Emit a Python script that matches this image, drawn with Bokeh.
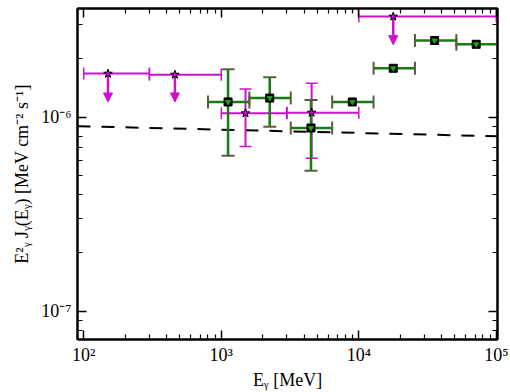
from bokeh.plotting import figure
from bokeh.models import (LogAxis, FixedTicker, CustomJSTickFormatter, Whisker, TeeHead,
                          ColumnDataSource, Arrow, NormalHead, Range1d)
from bokeh.embed import file_html
from bokeh.resources import INLINE

# --- data ---
# magenta upper limits
ul_x = [150, 460, 17800]
ul_y = [1.68e-6, 1.66e-6, 3.31e-6]
ul_xlo = [100, 300, 10000]
ul_xhi = [300, 1000, 100000]
ul_yend = [1.2e-6, 1.2e-6, 2.37e-6]

# magenta detections
mg_x = [1500, 4540]
mg_y = [1.05e-6, 1.057e-6]
mg_xlo = [1000, 3000]
mg_xhi = [3000, 10000]
mg_ylo = [7.07e-7, 6.15e-7]
mg_yhi = [1.40e-6, 1.50e-6]

# green points
gr_x = [1120, 2250, 4490, 8970, 17800, 35600, 71400]
gr_y = [1.20e-6, 1.257e-6, 8.81e-7, 1.20e-6, 1.79e-6, 2.49e-6, 2.38e-6]
gr_xlo = [800, 1600, 3200, 6400, 12800, 25600, 51200]
gr_xhi = [1600, 3200, 6400, 12800, 25600, 51200, 102400]
gr_ex = [1120, 2250, 4490]
gr_ey = [1.20e-6, 1.257e-6, 8.81e-7]
gr_ylo = [6.34e-7, 8.95e-7, 5.31e-7]
gr_yhi = [1.77e-6, 1.61e-6, 1.23e-6]

# dashed model line (straight on log-log)
ln_x = [90, 102000]
ln_y = [9.0e-7, 7.98e-7]

# ticks
x_major = [1e2, 1e3, 1e4, 1e5]
x_minor = [m * d for d in (1e1, 1e2, 1e3, 1e4) for m in range(2, 10)]
y_major = [1e-7, 1e-6]
y_minor = [m * d for d in (1e-8, 1e-7, 1e-6) for m in range(2, 10)]

MAG = "#cc11cc"
GRN = "#1a7a14"
OLV = "#55603a"
FONT = "'Liberation Serif', serif"

p = figure(width=510, height=392, x_axis_type="log", y_axis_type="log",
           x_range=Range1d(90, 102000), y_range=Range1d(7.15e-8, 3.64e-6),
           output_backend="svg", toolbar_location=None,
           min_border_left=77, min_border_right=13, min_border_top=8, min_border_bottom=51)
p.background_fill_color = "white"
p.border_fill_color = "white"
p.xgrid.visible = False
p.ygrid.visible = False
p.outline_line_color = "black"
p.outline_line_width = 2

fmt = CustomJSTickFormatter(code="""
const sup = {'-':'\u207b','0':'\u2070','1':'\u00b9','2':'\u00b2','3':'\u00b3','4':'\u2074',
             '5':'\u2075','6':'\u2076','7':'\u2077','8':'\u2078','9':'\u2079'};
const e = Math.round(Math.log10(tick));
return '10' + String(e).split('').map(c => sup[c]).join('');
""")

def style(ax):
    ax.major_tick_in = 9
    ax.major_tick_out = 0
    ax.minor_tick_in = 5
    ax.minor_tick_out = 0
    ax.axis_line_width = 2
    ax.major_tick_line_width = 1.5
    ax.minor_tick_line_width = 1.2

p.xaxis[0].ticker = FixedTicker(ticks=x_major, minor_ticks=x_minor)
p.yaxis[0].ticker = FixedTicker(ticks=y_major, minor_ticks=y_minor)
for ax in (p.xaxis[0], p.yaxis[0]):
    style(ax)
    ax.formatter = fmt
    ax.major_label_text_font = FONT
    ax.major_label_text_font_size = "18px"
    ax.major_label_text_color = "black"
    ax.axis_label_text_font = FONT
    ax.axis_label_text_font_size = "18px"
    ax.axis_label_text_font_style = "normal"
    ax.axis_label_text_color = "black"

p.xaxis[0].axis_label = "E\u1d67 [MeV]"
p.yaxis[0].axis_label = "E\u00b2\u1d67 J\u1d67(E\u1d67) [MeV cm\u207b\u00b2 s\u207b\u00b9]"
p.xaxis[0].axis_label_standoff = 2
p.yaxis[0].axis_label_standoff = 6
p.xaxis[0].major_label_standoff = 5
p.yaxis[0].major_label_standoff = 6

for loc, maj, mnr in (("above", x_major, x_minor), ("right", y_major, y_minor)):
    ax = LogAxis(ticker=FixedTicker(ticks=maj, minor_ticks=mnr),
                 formatter=CustomJSTickFormatter(code="return '';"))
    style(ax)
    ax.major_label_text_font_size = "0px"
    ax.major_label_standoff = 0
    p.add_layout(ax, loc)

# dashed line
p.line(ln_x, ln_y, line_color="black", line_width=2, line_dash="13 11")

# magenta upper limits
src_ul = ColumnDataSource(dict(x=ul_x, y=ul_y, xlo=ul_xlo, xhi=ul_xhi, yend=ul_yend))
p.add_layout(Whisker(source=src_ul, base="y", lower="xlo", upper="xhi", dimension="width",
                     line_color=MAG, line_width=2, level="glyph",
                     upper_head=TeeHead(size=12, line_color=MAG, line_width=1.5),
                     lower_head=TeeHead(size=12, line_color=MAG, line_width=1.5)))
p.add_layout(Arrow(source=src_ul, x_start="x", y_start="y", x_end="x", y_end="yend",
                   line_color=MAG, line_width=2.5,
                   end=NormalHead(size=9, fill_color=MAG, line_color=MAG)))

# magenta detections
src_mg = ColumnDataSource(dict(x=mg_x, y=mg_y, xlo=mg_xlo, xhi=mg_xhi, ylo=mg_ylo, yhi=mg_yhi))
for dim, base, lo, hi in (("width", "y", "xlo", "xhi"), ("height", "x", "ylo", "yhi")):
    p.add_layout(Whisker(source=src_mg, base=base, lower=lo, upper=hi, dimension=dim,
                         line_color=MAG, line_width=2, level="glyph",
                         upper_head=TeeHead(size=12, line_color=MAG, line_width=1.5),
                         lower_head=TeeHead(size=12, line_color=MAG, line_width=1.5)))

# green points
src_gr = ColumnDataSource(dict(x=gr_x, y=gr_y, xlo=gr_xlo, xhi=gr_xhi))
src_ge = ColumnDataSource(dict(x=gr_ex, y=gr_ey, ylo=gr_ylo, yhi=gr_yhi))
p.add_layout(Whisker(source=src_gr, base="y", lower="xlo", upper="xhi", dimension="width",
                     line_color=GRN, line_width=2.5, level="glyph",
                     upper_head=TeeHead(size=13, line_color=OLV, line_width=2),
                     lower_head=TeeHead(size=13, line_color=OLV, line_width=2)))
p.add_layout(Whisker(source=src_ge, base="x", lower="ylo", upper="yhi", dimension="height",
                     line_color=GRN, line_width=2.5, level="glyph",
                     upper_head=TeeHead(size=13, line_color=OLV, line_width=2),
                     lower_head=TeeHead(size=13, line_color=OLV, line_width=2)))
p.scatter(x="x", y="y", source=src_gr, marker="square", size=8, fill_color="black",
          line_color="black", level="overlay")
p.scatter(x="x", y="y", source=src_gr, marker="inverted_triangle", size=5, fill_color="#1fa01f",
          line_color="#1fa01f", level="overlay")

# magenta stars
p.scatter(ul_x, ul_y, marker="star", size=9, fill_color=MAG, line_color="black", line_width=1,
          level="overlay")
p.scatter(mg_x, mg_y, marker="star", size=9, fill_color=MAG, line_color="black", line_width=1,
          level="overlay")

open("out.html", "w").write(file_html(p, INLINE))
